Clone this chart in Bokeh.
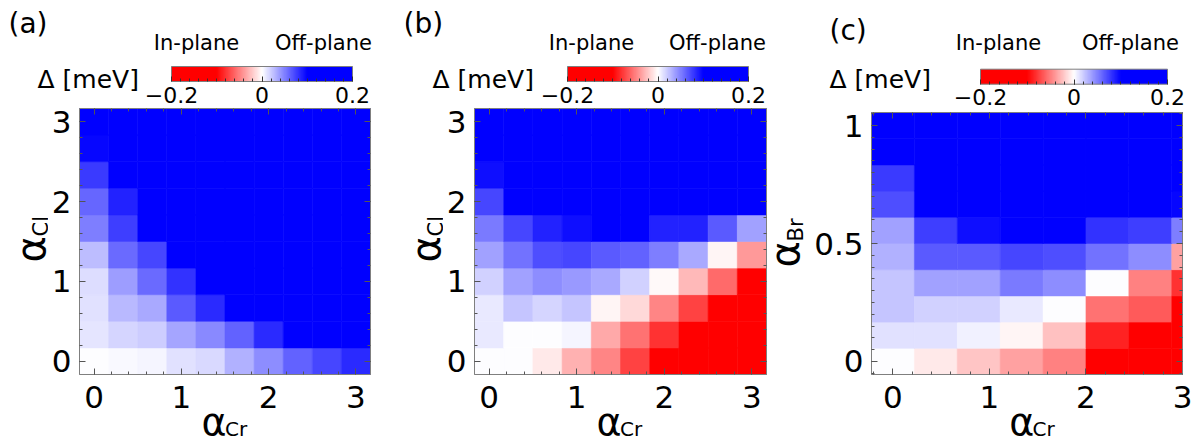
import math
from bokeh.plotting import figure
from bokeh.models import (Range1d, LinearAxis, SingleIntervalTicker, ColorBar, LinearColorMapper,
                          FixedTicker, Label, ColumnDataSource, CustomJSTickFormatter,
                          NumeralTickFormatter)
from bokeh.layouts import row, column
from bokeh.transform import transform
from bokeh.embed import file_html
from bokeh.resources import INLINE

FONT = "DejaVu Sans"

# ---------------- data ----------------
alpha_cr_ab = [0, 1/3, 2/3, 1, 4/3, 5/3, 2, 7/3, 8/3, 3]
alpha_cl_ab = [0, 1/3, 2/3, 1, 4/3, 5/3, 2, 7/3, 8/3, 3]
alpha_cr_c = [0, 4/9, 8/9, 4/3, 16/9, 20/9, 8/3, 28/9]
alpha_br_c = [0, 1/9, 2/9, 1/3, 4/9, 5/9, 2/3, 7/9, 8/9, 1]

# rows: bottom (alpha_X = 0) -> top
delta_a = [
    [0.000, 0.002, 0.0035, 0.011, 0.015, 0.031, 0.044, 0.062, 0.072, 0.084],
    [0.010, 0.017, 0.020, 0.035, 0.046, 0.062, 0.084, 0.2, 0.2, 0.2],
    [0.012, 0.028, 0.034, 0.065, 0.084, 0.2, 0.2, 0.2, 0.2, 0.2],
    [0.014, 0.038, 0.058, 0.081, 0.2, 0.2, 0.2, 0.2, 0.2, 0.2],
    [0.026, 0.058, 0.072, 0.2, 0.2, 0.2, 0.2, 0.2, 0.2, 0.2],
    [0.051, 0.075, 0.2, 0.2, 0.2, 0.2, 0.2, 0.2, 0.2, 0.2],
    [0.060, 0.087, 0.2, 0.2, 0.2, 0.2, 0.2, 0.2, 0.2, 0.2],
    [0.077, 0.2, 0.2, 0.2, 0.2, 0.2, 0.2, 0.2, 0.2, 0.2],
    [0.097, 0.2, 0.2, 0.2, 0.2, 0.2, 0.2, 0.2, 0.2, 0.2],
    [0.2, 0.2, 0.2, 0.2, 0.2, 0.2, 0.2, 0.2, 0.2, 0.2],
]
delta_b = [
    [0.000, 0.000, -0.009, -0.031, -0.047, -0.075, -0.2, -0.2, -0.2, -0.2],
    [0.009, 0.000, 0.001, 0.004, -0.034, -0.056, -0.081, -0.2, -0.2, -0.2],
    [0.009, 0.022, 0.017, 0.023, -0.004, -0.015, -0.047, -0.075, -0.2, -0.2],
    [0.018, 0.037, 0.044, 0.040, 0.034, 0.018, -0.003, -0.028, -0.059, -0.2],
    [0.037, 0.056, 0.069, 0.072, 0.065, 0.062, 0.050, 0.034, -0.004, -0.040],
    [0.053, 0.072, 0.087, 0.094, 0.2, 0.2, 0.087, 0.087, 0.065, 0.037],
    [0.072, 0.2, 0.2, 0.2, 0.2, 0.2, 0.2, 0.2, 0.2, 0.2],
    [0.094, 0.2, 0.2, 0.2, 0.2, 0.2, 0.2, 0.2, 0.2, 0.2],
    [0.2, 0.2, 0.2, 0.2, 0.2, 0.2, 0.2, 0.2, 0.2, 0.2],
    [0.2, 0.2, 0.2, 0.2, 0.2, 0.2, 0.2, 0.2, 0.2, 0.2],
]
delta_c = [
    [0.000, -0.008, -0.023, -0.037, -0.050, -0.2, -0.2, -0.2],
    [0.012, 0.012, 0.006, -0.004, -0.025, -0.087, -0.2, -0.2],
    [0.022, 0.018, 0.018, 0.009, 0.000, -0.056, -0.065, -0.2],
    [0.022, 0.037, 0.037, 0.053, 0.044, 0.000, -0.050, -0.081],
    [0.031, 0.065, 0.065, 0.072, 0.069, 0.056, 0.044, -0.037],
    [0.037, 0.075, 0.094, 0.2, 0.2, 0.081, 0.075, 0.050],
    [0.069, 0.2, 0.2, 0.2, 0.2, 0.2, 0.2, 0.097],
    [0.078, 0.2, 0.2, 0.2, 0.2, 0.2, 0.2, 0.2],
    [0.2, 0.2, 0.2, 0.2, 0.2, 0.2, 0.2, 0.2],
    [0.2, 0.2, 0.2, 0.2, 0.2, 0.2, 0.2, 0.2],
]
cbar_ticks = [-0.2, 0, 0.2]
cbar_low, cbar_high = -0.2, 0.2

# ---------------- colour map (red - white - blue, saturating at +-0.1) ----------------
palette = []
for i in range(256):
    v = cbar_low + (cbar_high - cbar_low) * (i + 0.5) / 256
    t = max(-1.0, min(1.0, v / 0.1))
    if t < 0:
        c = round(255 * (1 + t))
        palette.append("#%02x%02x%02x" % (255, c, c))
    else:
        c = round(255 * (1 - t))
        palette.append("#%02x%02x%02x" % (c, c, 255))
mapper = LinearColorMapper(palette=palette, low=cbar_low, high=cbar_high)

GRAY = "#7f7f7f"
TICK = "#555555"
HEAD_H = 108          # header strip        (page y   0..108)
MAIN_H = 310          # heat-map figures    (page y 108..418)
TOTAL_H = 443         # footer strip        (page y 418..443), drawn 7 px higher
LIFT = 7
HALF = math.pi / 2
DESC = 0.236          # font descent, used to place text baselines


def style_axis(ax, ticker, show, standoff=9):
    ax.ticker = ticker
    ax.major_tick_in = 6
    ax.major_tick_out = 0
    ax.minor_tick_in = 3
    ax.minor_tick_out = 0
    ax.major_tick_line_color = TICK
    ax.minor_tick_line_color = TICK
    ax.axis_line_color = GRAY
    ax.major_label_text_font = FONT
    ax.major_label_text_color = "black"
    if show:
        ax.major_label_text_font_size = "31px"
        ax.major_label_standoff = standoff
    else:
        ax.major_label_text_font_size = "0px"
        ax.major_label_standoff = 0


def label(p, text, x, y, size, angle=0.0, align="left"):
    # (x, y) is the wanted baseline point in page pixels (y downward)
    if angle == 0.0:
        y = y - DESC * size
    else:
        x = x - DESC * size
    p.add_layout(Label(x=x, y=y, text=text,
                       text_font=FONT, text_font_size=f"{size}px", angle=angle,
                       text_align=align, text_baseline="alphabetic", text_color="black"))


def blank(width, height, xr, yr, **kw):
    f = figure(width=width, height=height, x_range=Range1d(*xr), y_range=Range1d(*yr),
               x_axis_location=None, y_axis_location=None, min_border=0, frame_align=False,
               toolbar_location=None, tools="", output_backend="svg", **kw)
    f.grid.visible = False
    f.outline_line_color = None
    return f


def heatmap(xs, ys, vals, xr, yr, fw, fh, bl, br, bt, xtick, ytick):
    p = figure(frame_width=fw, frame_height=fh, x_range=Range1d(*xr), y_range=Range1d(*yr),
               min_border_left=bl, min_border_right=br, min_border_top=bt,
               min_border_bottom=MAIN_H - bt - fh,
               toolbar_location=None, tools="", output_backend="svg", frame_align=False)
    p.xgrid.visible = False
    p.ygrid.visible = False
    p.outline_line_color = GRAY
    dx = xs[1] - xs[0]
    dy = ys[1] - ys[0]
    x, y, v = [], [], []
    for i, yy in enumerate(ys):
        for j, xx in enumerate(xs):
            x.append(xx)
            y.append(yy)
            v.append(vals[i][j])
    src = ColumnDataSource(dict(x=x, y=y, v=v))
    p.rect(x="x", y="y", width=dx, height=dy, source=src,
           fill_color=transform("v", mapper), line_color=transform("v", mapper), line_width=0.6)
    style_axis(p.xaxis[0], xtick(), True, 11)
    style_axis(p.yaxis[0], ytick(), True, 8)
    p.xaxis[0].formatter = NumeralTickFormatter(format="0.[0]")
    p.yaxis[0].formatter = NumeralTickFormatter(format="0.[0]")
    top = LinearAxis()
    style_axis(top, xtick(), False)
    p.add_layout(top, "above")
    right = LinearAxis()
    style_axis(right, ytick(), False)
    p.add_layout(right, "right")
    return p


def header(x0, x1, tag, tag_xy, inplane_x, offplane_x, delta_x, bar_x, bar_w, bar_bottom):
    t = blank(x1 - x0, HEAD_H, (x0, x1), (HEAD_H, 0))
    label(t, tag, tag_xy[0], tag_xy[1], 28)
    label(t, "In-plane", inplane_x, 47.5, 21, align="center")
    label(t, "Off-plane", offplane_x, 47.5, 21, align="center")
    label(t, "Δ [meV]", delta_x, 84.5, 25)
    cb = ColorBar(color_mapper=mapper, orientation="horizontal", width=bar_w, height=15,
                  location=(bar_x - x0, HEAD_H - bar_bottom - 26), padding=0, margin=0,
                  ticker=FixedTicker(ticks=cbar_ticks,
                                     minor_ticks=[round(-0.2 + 0.02 * k, 2) for k in range(1, 20)]),
                  formatter=CustomJSTickFormatter(code="""
                      if (Math.abs(tick) < 1e-9) { return '0'; }
                      return (tick < 0 ? '\\u2212' : '') + Math.abs(tick).toFixed(1);"""),
                  major_label_text_font=FONT, major_label_text_font_size="22px",
                  major_label_text_color="black", label_standoff=5,
                  major_tick_in=5, major_tick_out=0, minor_tick_in=3, minor_tick_out=0,
                  major_tick_line_color="#333333", minor_tick_line_color="#333333",
                  bar_line_color=GRAY, border_line_color=None, background_fill_alpha=0)
    t.add_layout(cb)
    return t


def ylabel_strip(x0, x1, sym_x, sym_y, sub, sub_x, sub_y):
    f = blank(x1 - x0, MAIN_H, (x0, x1), (HEAD_H + MAIN_H, HEAD_H))
    label(f, "α", sym_x, sym_y, 40, HALF)
    label(f, sub, sub_x, sub_y, 21, HALF)
    return f


def xlabel_strip(x0, x1, sym_x, sub, sub_x):
    top = HEAD_H + MAIN_H - LIFT
    f = blank(x1 - x0, TOTAL_H - HEAD_H - MAIN_H, (x0, x1), (TOTAL_H - LIFT, top),
              styles={"transform": f"translateY(-{LIFT}px)"})
    f.background_fill_alpha = 0
    f.border_fill_alpha = 0
    label(f, "α", sym_x, 430.5, 38)
    label(f, sub, sub_x, 433, 20)
    return f


def ab_tick():
    return SingleIntervalTicker(interval=1, num_minor_ticks=5)


def c_ytick():
    return SingleIntervalTicker(interval=0.5, num_minor_ticks=10)


# ---------------- panel (a) : page x 0..402 ----------------
pa = heatmap(alpha_cr_ab, alpha_cl_ab, delta_a, (-1/6, 3 + 1/6), (-1/6, 3 + 1/6),
             291, 266, 28, 35, 0, ab_tick, ab_tick)
col_a = column(header(0, 402, "(a)", (8, 30), 196, 323, 37, 171, 181, 79),
               row(ylabel_strip(0, 48, 40, 262, "Cl", 45, 236), pa, spacing=0),
               xlabel_strip(0, 402, 201, "Cr", 224.5), spacing=0)

# ---------------- panel (b) : page x 402..766 ----------------
pb = heatmap(alpha_cr_ab, alpha_cl_ab, delta_b, (-1/6, 3 + 1/6), (-1/6, 3 + 1/6),
             292, 266, 28, 6, 0, ab_tick, ab_tick)
col_b = column(header(402, 766, "(b)", (400, 30), 588, 714, 429, 564, 181, 79),
               row(ylabel_strip(402, 440, 432, 262, "Cl", 437.5, 236), pb, spacing=0),
               xlabel_strip(402, 766, 593, "Cr", 616.5), spacing=0)

# ---------------- panel (c) : page x 766..1193 ----------------
pc = heatmap(alpha_cr_c, alpha_br_c, delta_c, (-2/9, 3.0), (-1/18, 1 + 1/18),
             311, 262, 65, 17, 4, ab_tick, c_ytick)
col_c = column(header(766, 1193, "(c)", (823, 36.5), 992, 1124, 823, 974, 187, 81.7),
               row(ylabel_strip(766, 800, 788, 267, "Br", 794, 241), pc, spacing=0),
               xlabel_strip(766, 1193, 1002.7, "Cr", 1026), spacing=0)

layout = row(col_a, col_b, col_c, spacing=0)

open("out.html", "w").write(file_html(layout, INLINE))
